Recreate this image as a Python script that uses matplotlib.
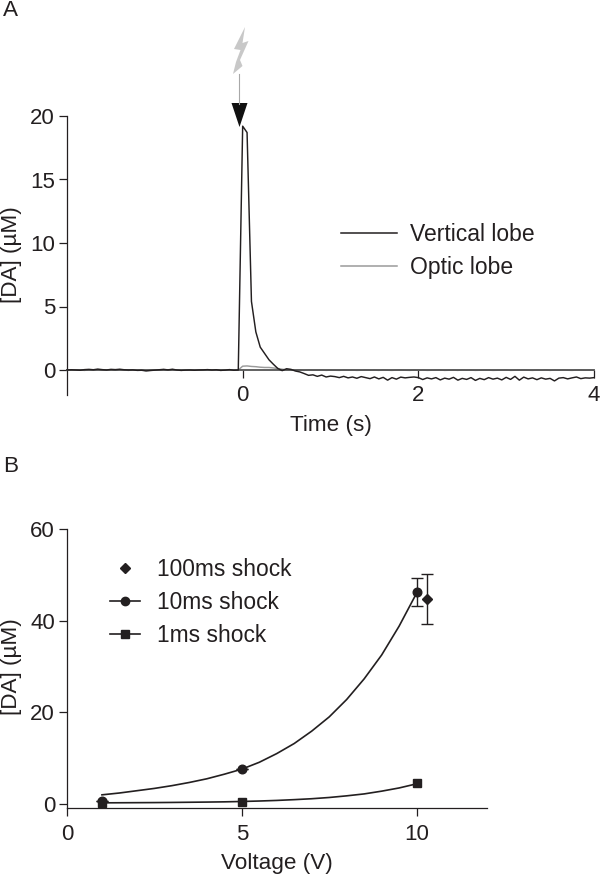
import numpy as np
import matplotlib
matplotlib.use("Agg")
import matplotlib.pyplot as plt
from matplotlib.lines import Line2D
from matplotlib.patches import Polygon
from matplotlib.transforms import Affine2D

plt.rcParams['font.family'] = ['Liberation Sans', 'DejaVu Sans']
W, H = 600, 875
INK = '#231f20'
GREY = '#9a9a9a'
FS = 16.2
TICK_FS = 16

# Panel A data: time in seconds, sampled every 0.05 s
time_s = np.arange(-40, 81) * 0.05
vertical_lobe = [
    0.00, 0.02, 0.00, -0.02, 0.03, 0.05, 0.02, 0.07, 0.03, 0.00,
    0.05, 0.03, 0.06, 0.02, 0.00, 0.01, -0.03, -0.02, -0.07, -0.04,
    -0.01, 0.02, 0.05, 0.01, 0.06, 0.00, -0.03, -0.01, 0.00, -0.02,
    0.00, 0.01, 0.03, 0.00, 0.02, -0.03, -0.01, 0.03, -0.02, 0.00,
    19.20, 18.70, 5.40, 3.00, 1.80, 1.30, 0.80, 0.45, 0.12, -0.05,
    0.10, 0.05, -0.08, -0.15, -0.28, -0.42, -0.38, -0.50, -0.40, -0.55,
    -0.48, -0.52, -0.60, -0.50, -0.62, -0.55, -0.65, -0.52, -0.60, -0.68,
    -0.55, -0.70, -0.58, -0.80, -0.60, -0.72, -0.56, -0.62, -0.58, -0.55,
    -0.60, -0.75, -0.62, -0.70, -0.60, -0.78, -0.64, -0.72, -0.58, -0.80,
    -0.66, -0.74, -0.60, -0.82, -0.66, -0.76, -0.60, -0.72, -0.64, -0.78,
    -0.58, -0.74, -0.50, -0.80, -0.56, -0.70, -0.62, -0.76, -0.62, -0.72,
    -0.66, -0.86, -0.64, -0.60, -0.70, -0.62, -0.55, -0.68, -0.62, -0.64,
    -0.60]
optic_lobe = [
    0.00, -0.02, 0.02, 0.00, -0.03, 0.02, 0.00, 0.03, -0.01, 0.01,
    0.02, -0.02, 0.03, 0.00, -0.03, 0.01, -0.02, 0.00, -0.05, -0.02,
    0.00, -0.01, 0.03, -0.02, 0.03, 0.00, -0.03, 0.00, 0.01, -0.02,
    0.00, -0.02, 0.02, -0.02, 0.01, -0.03, 0.00, 0.02, -0.02, 0.00,
    0.30, 0.32, 0.28, 0.26, 0.22, 0.20, 0.20, 0.16, 0.12, 0.06,
    0.02, 0.00, -0.02, 0.00, -0.03, 0.00, -0.02, -0.02, 0.00, -0.03,
    -0.01, -0.02, -0.03, 0.00, -0.02, -0.01, -0.03, -0.02, 0.00, -0.02,
    -0.01, -0.03, 0.00, -0.02, -0.03, -0.01, 0.00, -0.02, -0.03, -0.01,
    -0.02, 0.00, -0.03, -0.02, -0.01, 0.00, -0.03, -0.02, -0.01, -0.03,
    0.00, -0.02, -0.01, -0.03, -0.02, 0.00, -0.01, -0.03, -0.02, -0.01,
    0.00, -0.03, -0.02, -0.01, 0.00, -0.02, -0.03, -0.01, -0.02, 0.00,
    -0.03, -0.01, -0.02, 0.00, -0.02, -0.03, -0.01, 0.00, -0.02, -0.01,
    -0.02]

# Panel B data
curve_v = [1, 1.5, 2, 2.5, 3, 3.5, 4, 4.5, 5, 5.5, 6, 6.5, 7, 7.5, 8, 8.5, 9, 9.5, 10]
curve_10ms = [2.0, 2.4, 2.9, 3.4, 4.0, 4.7, 5.5, 6.5, 7.6, 9.1, 11.0, 13.2, 15.9, 19.0, 22.8, 27.3, 32.5, 38.8, 46.0]
curve_1ms = [0.25, 0.27, 0.29, 0.31, 0.34, 0.38, 0.42, 0.47, 0.55, 0.65, 0.78, 0.95, 1.15, 1.42, 1.78, 2.2, 2.8, 3.5, 4.4]
shock_10ms_v = [1, 5, 10]
shock_10ms = [0.7, 7.6, 46.3]
shock_10ms_err = [0, 0, 3.0]
shock_1ms_v = [1, 5, 10]
shock_1ms = [0.2, 0.4, 4.5]
shock_100ms_v = [10.29]
shock_100ms = [44.7]
shock_100ms_err = [5.45]

fig = plt.figure(figsize=(W / 100, H / 100), dpi=100)


def axes_px(l, t, r, b):
    return fig.add_axes([l / W, 1 - b / H, (r - l) / W, (b - t) / H])


def style(ax):
    for s in ('top', 'right'):
        ax.spines[s].set_visible(False)
    for s in ('left', 'bottom'):
        ax.spines[s].set_linewidth(0.9)
        ax.spines[s].set_color(INK)
    ax.tick_params(length=5.6, width=0.9, color=INK, labelcolor=INK, labelsize=TICK_FS, pad=3)
    ax.patch.set_alpha(0)


# Panel A
axA = axes_px(67, 116, 594, 395)
axA.set_xlim(-2, 4)
axA.set_ylim((370 - 395) / 12.7, 20)
style(axA)
axA.spines['bottom'].set_position(('data', 0))
axA.spines['bottom'].set_color('#555555')
axA.spines['bottom'].set_linewidth(1.3)
axA.set_xticks([0, 2, 4])
axA.set_yticks([0, 5, 10, 15, 20])
axA.tick_params(axis='x', pad=5.5)
axA.plot(time_s, vertical_lobe, color=INK, lw=1.05, clip_on=False, zorder=3)
axA.plot(time_s, optic_lobe, color=GREY, lw=1.05, clip_on=False, zorder=2)
axA.legend(handles=[Line2D([], [], color=INK, lw=1.1, label='Vertical lobe'),
                    Line2D([], [], color=GREY, lw=1.1, label='Optic lobe')],
           loc='upper left', bbox_to_anchor=((341 - 67) / 527, 1 - (223 - 116) / 279),
           frameon=False, fontsize=16.5, handlelength=2.44, handletextpad=0.58,
           labelspacing=0.43, borderpad=0, borderaxespad=0, labelcolor=INK)

# Panel B
axB = axes_px(67, 529, 486.5, 808)
axB.set_xlim(0, 12)
axB.set_ylim(-4 / 4.583, 60)
style(axB)
axB.set_xticks([0, 5, 10])
axB.set_yticks([0, 20, 40, 60])
axB.tick_params(axis='x', pad=6)
axB.plot(curve_v, curve_10ms, color=INK, lw=1.2, clip_on=False)
axB.plot(curve_v, curve_1ms, color=INK, lw=1.2, clip_on=False)
err_kw = dict(ecolor=INK, elinewidth=1.0, capsize=4.3, capthick=1.0, clip_on=False, color=INK, ls='none')
axB.errorbar(shock_10ms_v, shock_10ms, yerr=shock_10ms_err, marker='o', ms=6.2, **err_kw)
axB.errorbar(shock_100ms_v, shock_100ms, yerr=shock_100ms_err, marker='D', ms=5, **err_kw)
axB.plot(shock_1ms_v, shock_1ms, 's', color=INK, ms=6, ls='none', clip_on=False)
axB.legend(handles=[Line2D([], [], color=INK, marker='D', ms=5, ls='none', label='100ms shock'),
                    Line2D([], [], color=INK, marker='o', ms=6, lw=1.2, label='10ms shock'),
                    Line2D([], [], color=INK, marker='s', ms=6, lw=1.2, label='1ms shock')],
           loc='upper left', bbox_to_anchor=((110 - 67) / 419.5, 1 - (558 - 529) / 279),
           frameon=False, fontsize=16.4, handlelength=1.33, handletextpad=0.75,
           labelspacing=0.44, borderpad=0, borderaxespad=0, labelcolor=INK)


def txt(x, y, s, **kw):
    fig.text(x / W, 1 - y / H, s, color=INK, fontsize=FS, va='center', ha='center', **kw)


txt(10, 10, 'A')
txt(11, 466, 'B')
txt(331, 425, 'Time (s)')
txt(277, 863, 'Voltage (V)')
txt(12, 255, '[DA] (µM)', rotation=90)
txt(12, 667, '[DA] (µM)', rotation=90)

# Stimulus symbol (figure decoration, in pixel coordinates)
px = Affine2D().scale(1, -1).translate(0, H)
fig.add_artist(Polygon([(245, 27), (234, 49), (240.5, 50), (236, 62), (233, 74), (242.5, 66),
                        (240, 60), (248.5, 41), (242.5, 43)],
                       closed=True, fc='#c8c8c8', ec='none', transform=px))
fig.add_artist(Line2D([239, 239], [74, 104], color='#a8a8a8', lw=0.8, transform=px))
fig.add_artist(Polygon([(231.5, 103), (247.5, 103), (239.5, 127)],
                       closed=True, fc='#111111', ec='none', transform=px))

fig.savefig('out.png', dpi=100)
